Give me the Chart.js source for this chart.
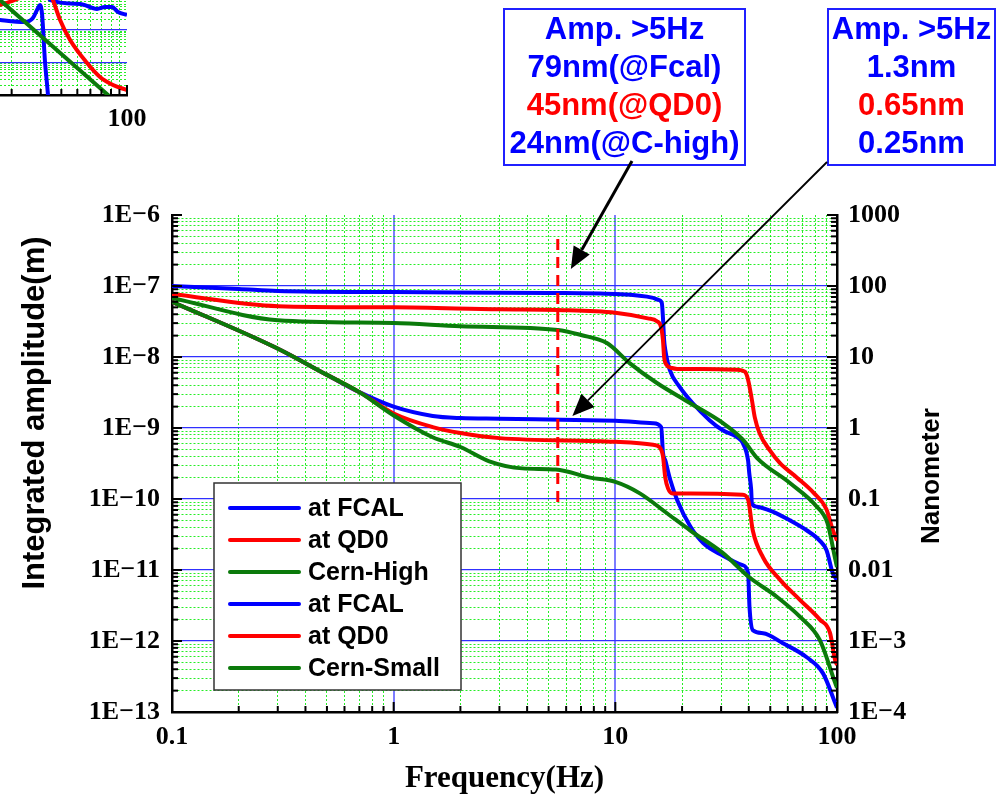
<!DOCTYPE html>
<html>
<head>
<meta charset="utf-8">
<script src="https://cdn.jsdelivr.net/npm/chart.js@4.4.1/dist/chart.umd.min.js"></script>
<style>
  html, body { margin: 0; padding: 0; background: #fff; }
  #wrap { position: relative; width: 999px; height: 800px; }
  #main, #inset { position: absolute; left: 0; top: 0; }
</style>
</head>
<body>
<div id="wrap">
  <canvas id="main" width="999" height="800"></canvas>
  <canvas id="inset" width="165" height="135"></canvas>
</div>
<script>
// ---- data (frequency in Hz, integrated amplitude in m) ----
const fcalHighF = [0.1, 0.2, 0.3, 1, 5, 10, 14.8, 15.6, 16.2, 16.4, 16.6, 16.8, 17.6, 19.5, 22.3, 26.6, 30.5, 35.3, 37.6, 39.7, 40.2, 41, 41.3, 43.5, 51.5, 61.3, 73.2, 83.5, 89.7, 95.6, 100];
const fcalHighV = [1.0e-7, 9.1e-8, 8.5e-8, 8.2e-8, 8.0e-8, 7.7e-8, 6.8e-8, 6.4e-8, 5.8e-8, 3.6e-8, 1.73e-8, 1.26e-8, 6.6e-9, 3.8e-9, 2.25e-9, 1.29e-9, 9.3e-10, 7.5e-10, 6.1e-10, 3.5e-10, 2.3e-10, 1.35e-10, 8.7e-11, 7.8e-11, 6.6e-11, 5.0e-11, 3.6e-11, 2.6e-11, 1.9e-11, 9.1e-12, 7.2e-12];

const qd0HighF = [0.1, 0.3, 1, 3, 5.5, 10, 14, 15.4, 16.1, 16.4, 16.6, 17, 18, 19, 24.9, 35.3, 38.4, 39.7, 41.3, 42.6, 44.7, 49.6, 55.3, 66, 78.5, 89.7, 95.6, 100];
const qd0HighV = [7.7e-8, 5.2e-8, 5.0e-8, 4.7e-8, 4.6e-8, 4.2e-8, 3.5e-8, 3.2e-8, 2.6e-8, 1.73e-8, 1.0e-8, 7.8e-9, 7.0e-9, 6.8e-9, 6.8e-9, 6.6e-9, 6.2e-9, 4.8e-9, 2.5e-9, 1.4e-9, 8.5e-10, 4.9e-10, 3.2e-10, 2.0e-10, 1.22e-10, 7.1e-11, 3.7e-11, 2.6e-11];

const cernHighF = [0.1, 0.3, 1, 2, 5.5, 7, 9.16, 11.6, 15.4, 21.7, 30.6, 37.7, 43.5, 61.3, 81.1, 90.5, 98.4, 100];
const cernHighV = [6.8e-8, 3.3e-8, 3.0e-8, 2.7e-8, 2.4e-8, 2.04e-8, 1.57e-8, 8.2e-9, 4.3e-9, 2.25e-9, 1.17e-9, 6.8e-10, 3.8e-10, 1.68e-10, 7.8e-11, 4.6e-11, 1.38e-11, 1.1e-11];

const fcalSmallF = [0.1, 0.29, 0.5, 0.7, 1, 1.5, 2, 3, 10, 14.8, 16.1, 16.4, 16.8, 17.7, 19, 21.8, 24.9, 30.5, 37.5, 39.7, 40.3, 41.7, 46.4, 57, 73, 86.5, 98, 100];
const fcalSmallV = [6.0e-8, 1.38e-8, 5.6e-9, 3.2e-9, 2.0e-9, 1.48e-9, 1.38e-9, 1.35e-9, 1.26e-9, 1.17e-9, 1.03e-9, 4.5e-10, 3.5e-10, 1.85e-10, 9.7e-11, 4.1e-11, 2.4e-11, 1.6e-11, 1.17e-11, 9.1e-12, 3.0e-12, 1.42e-12, 1.29e-12, 9.3e-13, 5.9e-13, 3.5e-13, 1.35e-13, 1.15e-13];

const qd0SmallF = [0.1, 0.29, 0.5, 0.7, 1, 1.5, 2, 3, 10, 14.8, 15.8, 16.4, 16.8, 17.3, 18.1, 21.8, 37.5, 39.7, 41.7, 46.4, 55.5, 68, 83.7, 93, 98, 100];
const qd0SmallV = [6.0e-8, 1.38e-8, 5.6e-9, 3.2e-9, 1.6e-9, 1.03e-9, 8.5e-10, 7.2e-10, 6.4e-10, 5.8e-10, 5.4e-10, 4.0e-10, 2.0e-10, 1.4e-10, 1.2e-10, 1.2e-10, 1.15e-10, 9.8e-11, 3.6e-11, 1.5e-11, 7.2e-12, 3.8e-12, 2.0e-12, 1.3e-12, 5.4e-13, 4.6e-13];

const cernSmallF = [0.1, 0.29, 0.5, 0.7, 1, 1.5, 2, 2.7, 3.8, 5.4, 7.7, 10, 12.9, 17.1, 21.8, 30.5, 40.2, 53.5, 68, 83.7, 98, 100];
const cernSmallV = [6.0e-8, 1.38e-8, 5.6e-9, 3.2e-9, 1.5e-9, 7.4e-10, 5.4e-10, 3.4e-10, 2.7e-10, 2.6e-10, 2.0e-10, 1.74e-10, 1.2e-10, 6.3e-11, 3.6e-11, 1.74e-11, 7.9e-12, 4.2e-12, 2.2e-12, 1.03e-12, 2.6e-13, 2.2e-13];

// dashed 5 Hz marker
const markerF = [5.5, 5.5];
const markerV = [4.6e-7, 7.5e-11];

// arrow tips (data coords)
const arrowTips = [[6.3, 1.73e-7], [6.4, 1.48e-9]];

// notes
const noteHigh = ['Amp. >5Hz', '79nm(@Fcal)', '45nm(@QD0)', '24nm(@C-high)'];
const noteLow = ['Amp. >5Hz', '1.3nm', '0.65nm', '0.25nm'];
const noteColors = ['#0000ff', '#0000ff', '#ff0000', '#0000ff'];

// tick labels, one per decade
const xTickLabels = ['0.1', '1', '10', '100'];          // 1e-1 .. 1e2
const yTickLabels = ['1E\u221213', '1E\u221212', '1E\u221211', '1E\u221210', '1E\u22129', '1E\u22128', '1E\u22127', '1E\u22126'];  // 1e-13 .. 1e-6
const nmTickLabels = ['1E\u22124', '1E\u22123', '0.01', '0.1', '1', '10', '100', '1000'];  // 1e-4 .. 1e3

// inset (fragment of another plot, top left)
const inGreenF = [15, 17, 76.7, 85];
const inGreenV = [140, 80, 0.1, 0.063];
const inBlueAF = [16, 17, 24.1, 26.9, 28.9, 29.7, 30.6, 31.8, 33.2, 33.7];
const inBlueAV = [20.5, 19.7, 17.1, 22.6, 45.8, 56.5, 27.9, 1.17, 0.1, 0.035];
const inBlueBF = [32.7, 34.1, 51.9, 65.8, 73.6, 81.1, 88.2, 100];
const inBlueBV = [162, 80, 60.7, 42.7, 49.1, 49.1, 34.5, 27.9];
const inRedAF = [15, 17, 20.9, 23];
const inRedAV = [48, 56.5, 80, 100];
const inRedBF = [34.6, 35.6, 39.3, 45.2, 57.3, 68.6, 82.3, 100];
const inRedBV = [114, 80, 19.7, 4.8, 0.95, 0.355, 0.202, 0.142];

const BLUE = '#0000ff', RED = '#ff0000', GREEN = '#0b7a0b';

function pts(fs, vs) { return fs.map((f, i) => ({x: f, y: vs[i]})); }
function isPow10(v) { const e = Math.log10(v); return Math.abs(e - Math.round(e)) < 1e-6; }
function logTicks(min, max) {
  const out = [];
  const e0 = Math.floor(Math.log10(min) + 1e-9), e1 = Math.ceil(Math.log10(max) - 1e-9);
  for (let e = e0; e <= e1; e++) {
    for (let m = 1; m <= 9; m++) {
      const v = Number((m * Math.pow(10, e)).toPrecision(10));
      if (v >= min * (1 - 1e-9) && v <= max * (1 + 1e-9)) out.push({value: v});
    }
  }
  return out;
}
function decadeLabel(list, firstExp) {
  return v => isPow10(v) ? (list[Math.round(Math.log10(v)) - firstExp] || '') : '';
}

const tickFont = {family: 'Liberation Serif', weight: 'bold', size: 26};

function gridFor(horizontal, min, max) {
  return {
    drawTicks: false,
    color: c => {
      if (!c.tick) return 'transparent';
      const v = c.tick.value;
      if (Math.abs(v - min) / min < 1e-6 || Math.abs(v - max) / max < 1e-6) return 'transparent';
      if (isPow10(v)) return horizontal ? '#3030ff' : '#7c7cff';
      return 'rgba(0,235,0,0.85)';
    },
    lineWidth: c => (c.tick && isPow10(c.tick.value)) ? (horizontal ? 1.3 : 2) : 1
  };
}
function borderFor() {
  return {
    display: true, color: '#000', width: 2.5,
    dash: c => (c.tick && !isPow10(c.tick.value)) ? [2, 2] : []
  };
}

const innerTicks = {
  id: 'innerTicks',
  afterDraw(chart, args, opts) {
    const ctx = chart.ctx, a = chart.chartArea;
    ctx.save();
    ctx.strokeStyle = '#000';
    ctx.lineWidth = 2;
    (opts.scales || []).forEach(id => {
      const s = chart.scales[id];
      s.ticks.forEach(t => {
        const len = isPow10(t.value) ? 10 : 6;
        const p = s.getPixelForValue(t.value);
        ctx.beginPath();
        if (s.isHorizontal()) { ctx.moveTo(p, a.bottom); ctx.lineTo(p, a.bottom - len); }
        else if (s.position === 'left') { ctx.moveTo(a.left, p); ctx.lineTo(a.left + len, p); }
        else { ctx.moveTo(a.right, p); ctx.lineTo(a.right - len, p); }
        ctx.stroke();
      });
    });
    ctx.restore();
  }
};

const boxLegend = {
  id: 'boxLegend',
  afterDatasetsDraw(chart) {
    const ctx = chart.ctx;
    const items = chart.data.datasets.filter(d => d.label);
    ctx.save();
    ctx.fillStyle = '#fff';
    ctx.fillRect(214, 483, 247, 207);
    ctx.strokeStyle = '#333';
    ctx.lineWidth = 1.5;
    ctx.strokeRect(214, 483, 247, 207);
    ctx.font = 'bold 25px "Liberation Sans"';
    ctx.textBaseline = 'middle';
    items.forEach((d, i) => {
      const y = 508 + i * 32;
      ctx.strokeStyle = d.borderColor;
      ctx.lineWidth = 4;
      ctx.lineCap = 'round';
      ctx.beginPath(); ctx.moveTo(230, y); ctx.lineTo(299, y); ctx.stroke();
      ctx.fillStyle = '#000';
      ctx.fillText(d.label, 308, y + 1);
    });
    ctx.restore();
  }
};

function arrow(ctx, x0, y0, x1, y1, w, head) {
  const ang = Math.atan2(y1 - y0, x1 - x0);
  const bx = x1 - head * Math.cos(ang), by = y1 - head * Math.sin(ang);
  ctx.lineWidth = w;
  ctx.beginPath(); ctx.moveTo(x0, y0); ctx.lineTo(bx, by); ctx.stroke();
  const hw = head * 0.42;
  ctx.beginPath();
  ctx.moveTo(x1, y1);
  ctx.lineTo(bx + hw * Math.sin(ang), by - hw * Math.cos(ang));
  ctx.lineTo(bx - hw * Math.sin(ang), by + hw * Math.cos(ang));
  ctx.closePath(); ctx.fill();
}

const notes = {
  id: 'notes',
  afterDraw(chart) {
    const ctx = chart.ctx, sx = chart.scales.x, sy = chart.scales.y;
    ctx.save();
    // boxes
    [[504, 9, 241, 156, noteHigh], [828, 9, 167, 156, noteLow]].forEach(([x, y, w, h, lines]) => {
      ctx.strokeStyle = '#2020ff';
      ctx.lineWidth = 2;
      ctx.strokeRect(x, y, w, h);
      ctx.font = 'bold 31px "Liberation Sans"';
      ctx.textAlign = 'center';
      ctx.textBaseline = 'alphabetic';
      lines.forEach((t, i) => {
        ctx.fillStyle = noteColors[i];
        ctx.fillText(t, x + w / 2, 39 + i * 38);
      });
    });
    // arrows
    ctx.strokeStyle = '#000';
    ctx.fillStyle = '#000';
    const t1 = arrowTips[0], t2 = arrowTips[1];
    arrow(ctx, 632, 161, sx.getPixelForValue(t1[0]), sy.getPixelForValue(t1[1]), 3, 22);
    arrow(ctx, 827, 162, sx.getPixelForValue(t2[0]), sy.getPixelForValue(t2[1]), 1.8, 22);
    // rotated axis titles
    ctx.fillStyle = '#000';
    ctx.textAlign = 'center';
    ctx.textBaseline = 'middle';
    ctx.save();
    ctx.translate(35, 413); ctx.rotate(-Math.PI / 2);
    ctx.font = 'bold 31px "Liberation Sans"';
    ctx.fillText('Integrated amplitude(m)', 0, 0);
    ctx.restore();
    ctx.save();
    ctx.translate(932, 476); ctx.rotate(-Math.PI / 2);
    ctx.font = 'bold 26px "Liberation Sans"';
    ctx.fillText('Nanometer', 0, 0);
    ctx.restore();
    ctx.restore();
  }
};

function line(label, f, v, color, order) {
  return {label, data: pts(f, v), borderColor: color, backgroundColor: color, borderWidth: 4,
          pointRadius: 0, fill: false, cubicInterpolationMode: 'monotone', order};
}

new Chart(document.getElementById('main'), {
  type: 'line',
  data: {
    datasets: [
      line('at FCAL', fcalHighF, fcalHighV, BLUE, 3),
      line('at QD0', qd0HighF, qd0HighV, RED, 2),
      line('Cern-High', cernHighF, cernHighV, GREEN, 1),
      line('at FCAL', fcalSmallF, fcalSmallV, BLUE, 3),
      line('at QD0', qd0SmallF, qd0SmallV, RED, 2),
      line('Cern-Small', cernSmallF, cernSmallV, GREEN, 1),
      {label: '', data: pts(markerF, markerV), borderColor: RED, borderWidth: 3, borderDash: [11, 7],
       pointRadius: 0, fill: false, order: 0}
    ]
  },
  options: {
    responsive: false,
    animation: false,
    layout: {padding: {top: 215, left: 0, right: 0, bottom: 0}},
    plugins: {legend: {display: false}, tooltip: {enabled: false}, innerTicks: {scales: ['x', 'y', 'y2']}},
    scales: {
      x: {
        type: 'logarithmic', min: 0.1, max: 100,
        afterBuildTicks: s => { s.ticks = logTicks(0.1, 100); },
        afterFit: s => { s.height = 88; },
        grid: gridFor(false, 0.1, 100),
        border: borderFor(),
        ticks: {font: tickFont, color: '#000', padding: 10, autoSkip: false, maxRotation: 0, minRotation: 0,
                callback: decadeLabel(xTickLabels, -1)},
        title: {display: true, text: 'Frequency(Hz)', color: '#000',
                font: {family: 'Liberation Serif', weight: 'bold', size: 31}, padding: {top: 0, bottom: 2}}
      },
      y: {
        type: 'logarithmic', position: 'left', min: 1e-13, max: 1e-6,
        afterBuildTicks: s => { s.ticks = logTicks(1e-13, 1e-6); },
        afterFit: s => { s.width = 172; },
        grid: gridFor(true, 1e-13, 1e-6),
        border: borderFor(),
        ticks: {font: tickFont, color: '#000', padding: 12, autoSkip: false,
                callback: decadeLabel(yTickLabels, -13)}
      },
      y2: {
        type: 'logarithmic', position: 'right', min: 1e-4, max: 1e3,
        afterBuildTicks: s => { s.ticks = logTicks(1e-4, 1e3); },
        afterFit: s => { s.width = 162; },
        grid: {drawOnChartArea: false, drawTicks: false},
        border: {display: true, color: '#000', width: 2.5},
        ticks: {font: tickFont, color: '#000', padding: 11, autoSkip: false,
                callback: decadeLabel(nmTickLabels, -4)}
      }
    }
  },
  plugins: [innerTicks, boxLegend, notes]
});

new Chart(document.getElementById('inset'), {
  type: 'line',
  data: {
    datasets: [
      line('', inBlueAF, inBlueAV, BLUE, 3),
      line('', inBlueBF, inBlueBV, BLUE, 3),
      line('', inRedAF, inRedAV, RED, 2),
      line('', inRedBF, inRedBV, RED, 2),
      line('', inGreenF, inGreenV, GREEN, 1)
    ]
  },
  options: {
    responsive: false,
    animation: false,
    layout: {padding: {top: 0, left: 0, right: 38, bottom: 0}},
    plugins: {legend: {display: false}, tooltip: {enabled: false}, innerTicks: {scales: ['x']}},
    scales: {
      x: {
        type: 'logarithmic', min: 17, max: 100,
        afterBuildTicks: s => { s.ticks = logTicks(17, 100); },
        afterFit: s => { s.height = 40; },
        grid: gridFor(false, 17, 100),
        border: borderFor(),
        ticks: {font: tickFont, color: '#000', padding: 9, autoSkip: false, maxRotation: 0, minRotation: 0,
                callback: v => (Math.abs(v - 100) < 1e-9 ? '100' : '')}
      },
      y: {
        type: 'logarithmic', min: 0.1, max: 80,
        afterBuildTicks: s => { s.ticks = logTicks(0.1, 80); },
        afterFit: s => { s.width = 0; },
        grid: gridFor(true, 0.1, 80),
        border: {display: false, dash: c => (c.tick && !isPow10(c.tick.value)) ? [2, 2] : []},
        ticks: {display: false}
      }
    }
  },
  plugins: [innerTicks]
});
</script>
</body>
</html>
